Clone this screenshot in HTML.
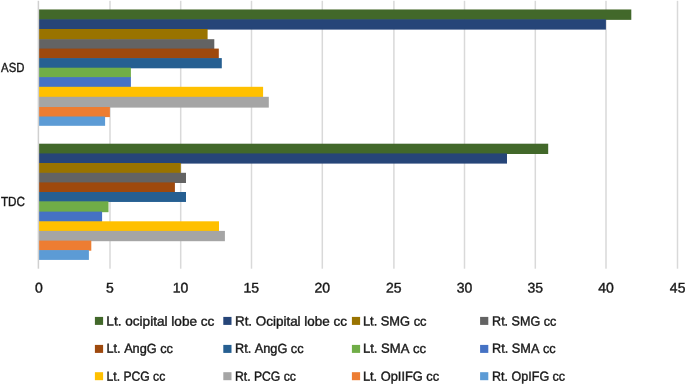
<!DOCTYPE html><html><head><meta charset="utf-8"><title>Chart</title><style>html,body{margin:0;padding:0;background:#fff;width:685px;height:385px;overflow:hidden}svg{display:block}text{font-family:"Liberation Sans",sans-serif;font-kerning:none;fill:#1a1a1a;stroke:#1a1a1a;stroke-width:0.4px}</style></head><body>
<svg width="685" height="385" viewBox="0 0 685 385">
<defs><filter id="b" x="-5%" y="-5%" width="110%" height="110%"><feGaussianBlur stdDeviation="0.45"/></filter></defs>
<rect width="685" height="385" fill="#fff"/><g filter="url(#b)">
<rect x="109.25" y="0.8" width="1.5" height="267.9" fill="#d9d9d9"/>
<rect x="179.95" y="0.8" width="1.5" height="267.9" fill="#d9d9d9"/>
<rect x="250.75" y="0.8" width="1.5" height="267.9" fill="#d9d9d9"/>
<rect x="321.55" y="0.8" width="1.5" height="267.9" fill="#d9d9d9"/>
<rect x="393.15" y="0.8" width="1.5" height="267.9" fill="#d9d9d9"/>
<rect x="463.75" y="0.8" width="1.5" height="267.9" fill="#d9d9d9"/>
<rect x="534.55" y="0.8" width="1.5" height="267.9" fill="#d9d9d9"/>
<rect x="605.25" y="0.8" width="1.5" height="267.9" fill="#d9d9d9"/>
<rect x="676.75" y="0.8" width="1.5" height="267.9" fill="#d9d9d9"/>
<rect x="38.88" y="9.46" width="592.42" height="10.400" fill="#43682B"/>
<rect x="38.88" y="19.26" width="567.02" height="10.340" fill="#264478"/>
<rect x="38.88" y="29.00" width="168.72" height="10.800" fill="#997300"/>
<rect x="38.88" y="39.20" width="175.42" height="10.000" fill="#636363"/>
<rect x="38.88" y="48.60" width="179.92" height="10.100" fill="#9E480E"/>
<rect x="38.88" y="58.10" width="182.92" height="10.200" fill="#255E91"/>
<rect x="38.88" y="67.70" width="92.02" height="10.000" fill="#70AD47"/>
<rect x="38.88" y="77.10" width="92.02" height="10.300" fill="#4472C4"/>
<rect x="38.88" y="86.80" width="224.22" height="10.600" fill="#FFC000"/>
<rect x="38.88" y="96.80" width="229.92" height="10.800" fill="#A5A5A5"/>
<rect x="38.88" y="107.00" width="71.02" height="10.100" fill="#ED7D31"/>
<rect x="38.88" y="116.50" width="66.22" height="9.300" fill="#5B9BD5"/>
<rect x="38.88" y="143.70" width="509.32" height="10.300" fill="#43682B"/>
<rect x="38.88" y="153.40" width="468.12" height="10.200" fill="#264478"/>
<rect x="38.88" y="163.00" width="141.92" height="10.400" fill="#997300"/>
<rect x="38.88" y="172.80" width="147.12" height="10.200" fill="#636363"/>
<rect x="38.88" y="182.40" width="136.02" height="10.200" fill="#9E480E"/>
<rect x="38.88" y="192.00" width="147.12" height="9.950" fill="#255E91"/>
<rect x="38.88" y="201.35" width="69.62" height="10.850" fill="#70AD47"/>
<rect x="38.88" y="211.60" width="63.22" height="10.300" fill="#4472C4"/>
<rect x="38.88" y="221.30" width="180.12" height="10.200" fill="#FFC000"/>
<rect x="38.88" y="230.90" width="186.02" height="10.300" fill="#A5A5A5"/>
<rect x="38.88" y="240.60" width="52.42" height="10.100" fill="#ED7D31"/>
<rect x="38.88" y="250.10" width="50.02" height="9.800" fill="#5B9BD5"/>
<rect x="37.65" y="0.8" width="1.5" height="267.9" fill="#d0d0d0"/>
<text x="1.11" y="72.10" font-size="13.2" textLength="23.34" lengthAdjust="spacingAndGlyphs" transform="rotate(0.06 1.11 72.10)">ASD</text>
<text x="0.97" y="206.00" font-size="13.2" textLength="24.08" lengthAdjust="spacingAndGlyphs" transform="rotate(0.06 0.97 206.00)">TDC</text>
<text x="35.01" y="292.60" font-size="14.0" transform="rotate(0.06 35.01 292.60)">0</text>
<text x="106.12" y="292.60" font-size="14.0" transform="rotate(0.06 106.12 292.60)">5</text>
<text x="172.65" y="292.60" font-size="14.0" transform="rotate(0.06 172.65 292.60)">10</text>
<text x="243.47" y="292.60" font-size="14.0" transform="rotate(0.06 243.47 292.60)">15</text>
<text x="314.44" y="292.60" font-size="14.0" transform="rotate(0.06 314.44 292.60)">20</text>
<text x="386.06" y="292.60" font-size="14.0" transform="rotate(0.06 386.06 292.60)">25</text>
<text x="456.72" y="292.60" font-size="14.0" transform="rotate(0.06 456.72 292.60)">30</text>
<text x="527.54" y="292.60" font-size="14.0" transform="rotate(0.06 527.54 292.60)">35</text>
<text x="598.33" y="292.60" font-size="14.0" transform="rotate(0.06 598.33 292.60)">40</text>
<text x="669.85" y="292.60" font-size="14.0" transform="rotate(0.06 669.85 292.60)">45</text>
<rect x="94.90" y="316.90" width="8.2" height="8.0" fill="#43682B"/>
<text x="106.39" y="325.60" font-size="13.2" textLength="107.97" lengthAdjust="spacingAndGlyphs" transform="rotate(0.06 106.39 325.60)">Lt. ocipital lobe cc</text>
<rect x="223.30" y="316.90" width="8.2" height="8.0" fill="#264478"/>
<text x="234.95" y="325.60" font-size="13.2" textLength="111.91" lengthAdjust="spacingAndGlyphs" transform="rotate(0.06 234.95 325.60)">Rt. Ocipital lobe cc</text>
<rect x="351.90" y="316.90" width="8.2" height="8.0" fill="#997300"/>
<text x="362.95" y="325.60" font-size="13.2" textLength="63.54" lengthAdjust="spacingAndGlyphs" transform="rotate(0.06 362.95 325.60)">Lt. SMG cc</text>
<rect x="480.10" y="316.90" width="8.2" height="8.0" fill="#636363"/>
<text x="492.07" y="325.60" font-size="13.2" textLength="64.16" lengthAdjust="spacingAndGlyphs" transform="rotate(0.06 492.07 325.60)">Rt. SMG cc</text>
<rect x="94.90" y="344.90" width="8.2" height="8.0" fill="#9E480E"/>
<text x="106.46" y="352.85" font-size="13.2" textLength="66.48" lengthAdjust="spacingAndGlyphs" transform="rotate(0.06 106.46 352.85)">Lt. AngG cc</text>
<rect x="223.30" y="344.90" width="8.2" height="8.0" fill="#255E91"/>
<text x="234.96" y="352.85" font-size="13.2" textLength="68.58" lengthAdjust="spacingAndGlyphs" transform="rotate(0.06 234.96 352.85)">Rt. AngG cc</text>
<rect x="351.90" y="344.90" width="8.2" height="8.0" fill="#70AD47"/>
<text x="362.93" y="352.85" font-size="13.2" textLength="63.12" lengthAdjust="spacingAndGlyphs" transform="rotate(0.06 362.93 352.85)">Lt. SMA cc</text>
<rect x="480.10" y="344.90" width="8.2" height="8.0" fill="#4472C4"/>
<text x="492.06" y="352.85" font-size="13.2" textLength="63.58" lengthAdjust="spacingAndGlyphs" transform="rotate(0.06 492.06 352.85)">Rt. SMA cc</text>
<rect x="94.90" y="372.20" width="8.2" height="8.0" fill="#FFC000"/>
<text x="106.50" y="380.70" font-size="13.2" textLength="58.72" lengthAdjust="spacingAndGlyphs" transform="rotate(0.06 106.50 380.70)">Lt. PCG cc</text>
<rect x="223.30" y="372.20" width="8.2" height="8.0" fill="#A5A5A5"/>
<text x="235.00" y="380.70" font-size="13.2" textLength="60.82" lengthAdjust="spacingAndGlyphs" transform="rotate(0.06 235.00 380.70)">Rt. PCG cc</text>
<rect x="351.90" y="372.20" width="8.2" height="8.0" fill="#ED7D31"/>
<text x="362.95" y="380.70" font-size="13.2" textLength="76.19" lengthAdjust="spacingAndGlyphs" transform="rotate(0.06 362.95 380.70)">Lt. OpIIFG cc</text>
<rect x="480.10" y="372.20" width="8.2" height="8.0" fill="#5B9BD5"/>
<text x="492.07" y="380.70" font-size="13.2" textLength="73.06" lengthAdjust="spacingAndGlyphs" transform="rotate(0.06 492.07 380.70)">Rt. OpIFG cc</text>
</g></svg></body></html>
